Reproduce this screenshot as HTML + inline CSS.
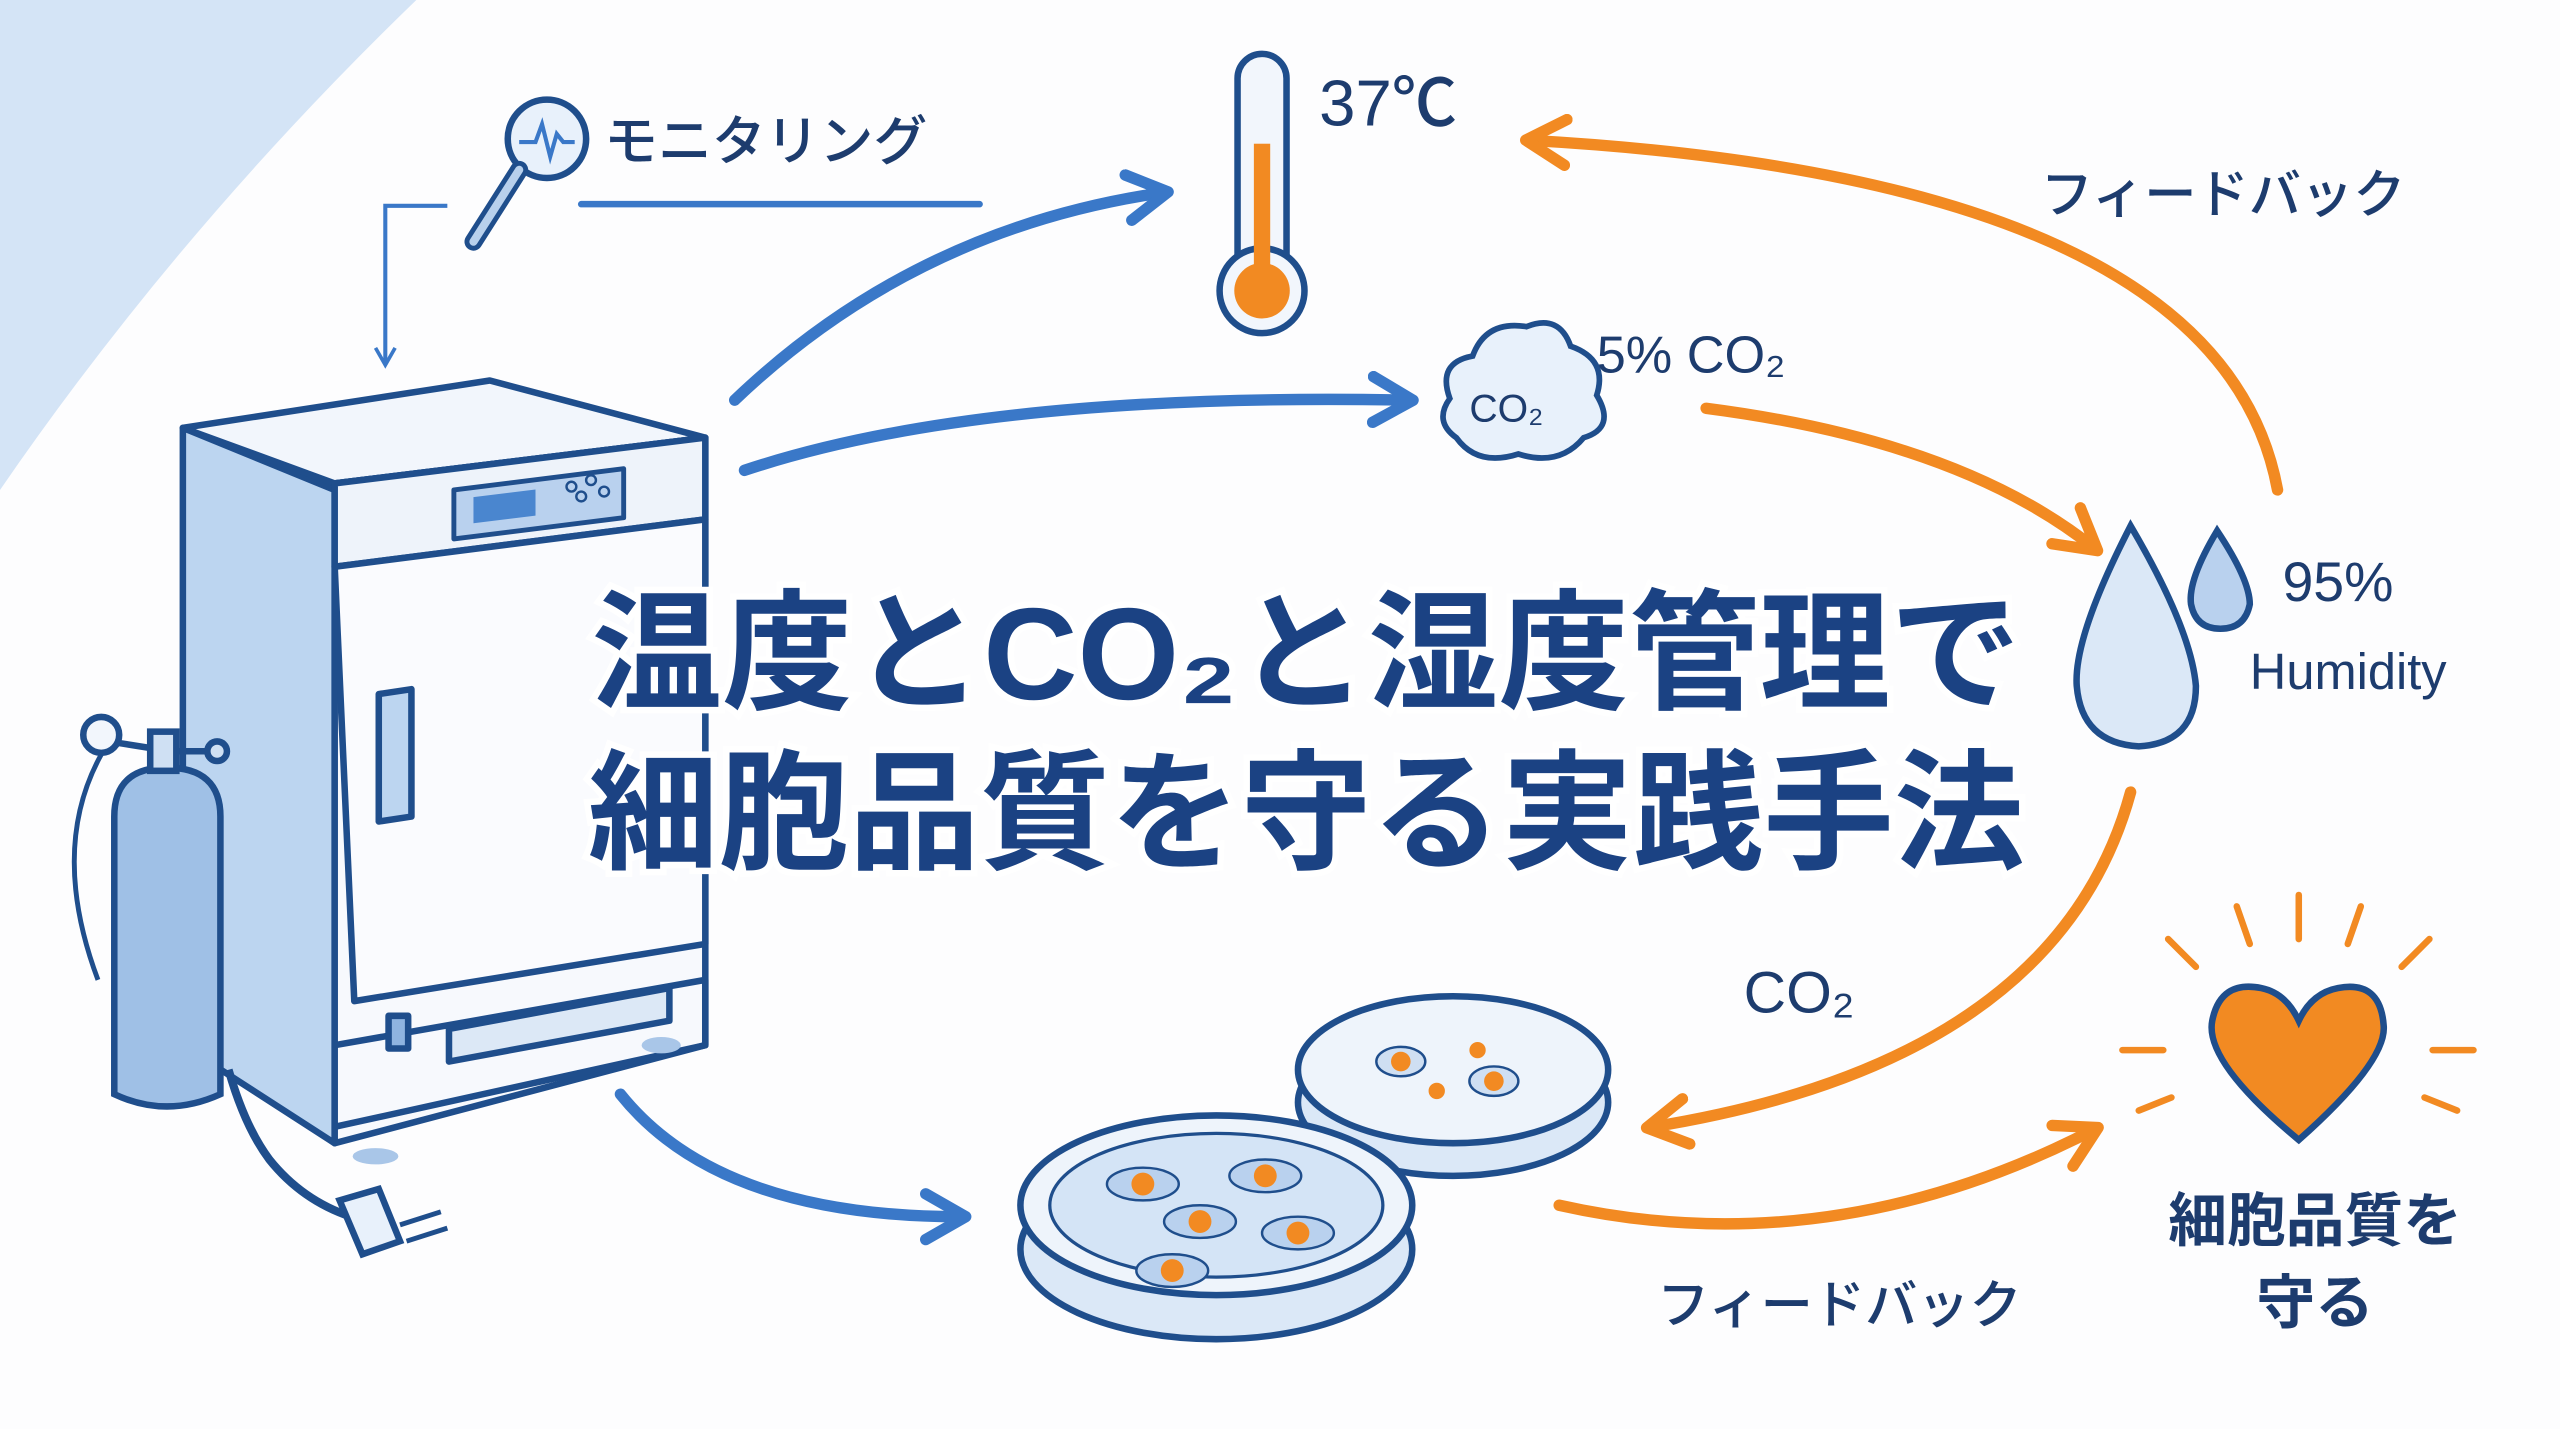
<!DOCTYPE html>
<html><head><meta charset="utf-8"><style>
html,body{margin:0;padding:0;background:#fdfdfe;}
svg{display:block}
text{font-family:"Liberation Sans","Noto Sans CJK JP",sans-serif;}
</style></head><body>
<svg width="2560" height="1429" viewBox="0 0 1568 875" preserveAspectRatio="none" xmlns="http://www.w3.org/2000/svg">
<defs>
<marker id="ab" viewBox="0 0 10 10" refX="7" refY="5" markerWidth="5" markerHeight="5" orient="auto"><path d="M1,1 L8,5 L1,9" fill="none" stroke="#3a78c8" stroke-width="2" stroke-linecap="round" stroke-linejoin="round"/></marker>
<marker id="ao" viewBox="0 0 10 10" refX="7" refY="5" markerWidth="5" markerHeight="5" orient="auto"><path d="M1,1 L8,5 L1,9" fill="none" stroke="#f28a22" stroke-width="2" stroke-linecap="round" stroke-linejoin="round"/></marker>
<marker id="as" viewBox="0 0 10 10" refX="7" refY="5" markerWidth="6" markerHeight="6" orient="auto"><path d="M1,1 L8,5 L1,9" fill="none" stroke="#3a78c8" stroke-width="1.5"/></marker>
</defs>
<rect width="1568" height="875" fill="#fdfdfe"/>
<path d="M0,0 L255,0 Q110,140 0,300 Z" fill="#d4e4f6"/>

<!-- monitoring -->
<circle cx="335" cy="85" r="24" fill="#e8f1fb" stroke="#1f4e8c" stroke-width="4"/>
<path d="M318,87 L328,87 L332,76 L337,96 L341,82 L345,87 L352,87" fill="none" stroke="#3a78c8" stroke-width="2.5"/>
<line x1="318" y1="104" x2="290" y2="148" stroke="#1f4e8c" stroke-width="11" stroke-linecap="round"/>
<line x1="318" y1="104" x2="290" y2="148" stroke="#b8d0ec" stroke-width="5" stroke-linecap="round"/>
<text x="370" y="98" font-size="33" font-weight="500" fill="#1d3c6e">モニタリング</text>
<line x1="356" y1="125" x2="600" y2="125" stroke="#3a78c8" stroke-width="4" stroke-linecap="round"/>
<path d="M274,126 L236,126 L236,222" fill="none" stroke="#3a78c8" stroke-width="2.5" marker-end="url(#as)"/>

<!-- incubator -->
<g stroke="#1f4e8c" stroke-width="4" stroke-linejoin="round">
<path d="M112,262 L112,640 L205,700 L205,300 Z" fill="#bcd5f0"/>
<path d="M112,262 L300,233 L432,268 L205,296 Z" fill="#f2f6fc"/>
<path d="M205,296 L432,268 L432,640 L205,700 Z" fill="#f7f9fd"/>
<path d="M205,296 L432,268 L432,318 L205,347 Z" fill="#eef3fa"/>
<path d="M278,300 L382,287 L382,317 L278,330 Z" fill="#b9d1ee" stroke-width="3"/>
<path d="M205,347 L432,318 L432,578 L217,613 Z" fill="#fafbfe"/>
<path d="M232,425 L252,422 L252,500 L232,503 Z" fill="#bcd5f0"/>
<path d="M205,640 L432,600 L432,640 L205,690" fill="none"/>
<path d="M275,630 L410,605 L410,625 L275,650 Z" fill="#dce8f6"/>
<rect x="238" y="622" width="12" height="20" fill="#8fb4e0"/>
</g>
<rect x="290" y="302" width="38" height="16" fill="#4a86cf" transform="skewY(-7) translate(0,38)"/>
<circle cx="350" cy="298" r="3" fill="none" stroke="#1f4e8c" stroke-width="1.5"/><circle cx="362" cy="294" r="3" fill="none" stroke="#1f4e8c" stroke-width="1.5"/><circle cx="356" cy="304" r="3" fill="none" stroke="#1f4e8c" stroke-width="1.5"/><circle cx="370" cy="301" r="3" fill="none" stroke="#1f4e8c" stroke-width="1.5"/>
<ellipse cx="230" cy="708" rx="14" ry="5" fill="#a9c6e8"/>
<ellipse cx="405" cy="640" rx="12" ry="5" fill="#a9c6e8"/>

<!-- gas cylinder -->
<g stroke="#1f4e8c" stroke-width="4">
<path d="M70,500 Q70,470 102,470 Q135,470 135,500 L135,670 Q102,685 70,670 Z" fill="#9fc0e6"/>
<rect x="92" y="448" width="16" height="24" fill="#cfe0f3"/>
<line x1="108" y1="460" x2="130" y2="460"/>
<circle cx="133" cy="460" r="6" fill="#cfe0f3"/>
<circle cx="62" cy="450" r="11" fill="#f2f6fc"/>
<line x1="73" y1="455" x2="92" y2="458"/>
<path d="M62,462 Q30,520 60,600" fill="none" stroke-width="3"/>
<path d="M140,655 Q150,690 165,710 Q185,735 215,745" fill="none" stroke-width="5"/>
<path d="M208,735 L232,728 L245,760 L222,768 Z" fill="#e8f1fb"/>
</g>
<line x1="245" y1="750" x2="270" y2="742" stroke="#1f4e8c" stroke-width="3"/>
<line x1="249" y1="760" x2="274" y2="752" stroke="#1f4e8c" stroke-width="3"/>

<!-- blue arrows -->
<path d="M450,245 Q560,140 712,118" fill="none" stroke="#3a78c8" stroke-width="7" stroke-linecap="round" marker-end="url(#ab)"/>
<path d="M456,288 Q600,240 862,245" fill="none" stroke="#3a78c8" stroke-width="7" stroke-linecap="round" marker-end="url(#ab)"/>
<path d="M380,670 Q440,745 588,745" fill="none" stroke="#3a78c8" stroke-width="7" stroke-linecap="round" marker-end="url(#ab)"/>

<!-- thermometer -->
<rect x="758" y="33" width="30" height="140" rx="15" fill="#f2f6fc" stroke="#1f4e8c" stroke-width="4"/>
<circle cx="773" cy="178" r="26" fill="#f2f6fc" stroke="#1f4e8c" stroke-width="4"/>
<rect x="768" y="88" width="10" height="90" fill="#f28a22"/>
<circle cx="773" cy="178" r="17" fill="#f28a22"/>
<text x="808" y="77" font-size="40" font-weight="500" fill="#1d3c6e">37℃</text>

<!-- cloud -->
<path d="M892,268 Q878,258 888,244 Q880,222 902,218 Q910,196 935,200 Q955,192 962,212 Q985,220 978,242 Q990,262 970,268 Q955,286 930,278 Q905,286 892,268 Z" fill="#e8f1fb" stroke="#1f4e8c" stroke-width="3.5"/>
<text x="900" y="258" font-size="24" font-weight="500" fill="#1d3c6e">CO₂</text>
<text x="978" y="228" font-size="32" font-weight="500" fill="#1d3c6e">5% CO₂</text>

<!-- orange arrows -->
<path d="M1395,300 Q1360,110 938,86" fill="none" stroke="#f28a22" stroke-width="7" stroke-linecap="round" marker-end="url(#ao)"/>
<path d="M1045,250 Q1200,270 1282,335" fill="none" stroke="#f28a22" stroke-width="7" stroke-linecap="round" marker-end="url(#ao)"/>
<path d="M1305,485 Q1260,650 1012,690" fill="none" stroke="#f28a22" stroke-width="7" stroke-linecap="round" marker-end="url(#ao)"/>
<path d="M955,738 Q1120,775 1282,692" fill="none" stroke="#f28a22" stroke-width="7" stroke-linecap="round" marker-end="url(#ao)"/>
<text x="1250" y="130" font-size="32" font-weight="500" fill="#1d3c6e">フィードバック</text>
<text x="1068" y="620" font-size="36" font-weight="500" fill="#1d3c6e">CO₂</text>
<text x="1015" y="810" font-size="32" font-weight="500" fill="#1d3c6e">フィードバック</text>

<!-- drops -->
<path d="M1305,322 Q1270,390 1272,420 Q1275,455 1310,457 Q1345,455 1345,420 Q1342,385 1305,322 Z" fill="#dbe8f7" stroke="#1f4e8c" stroke-width="4"/>
<path d="M1358,325 Q1340,355 1342,370 Q1345,385 1360,385 Q1375,385 1378,370 Q1378,355 1358,325 Z" fill="#b9d1ee" stroke="#1f4e8c" stroke-width="4"/>
<text x="1398" y="368" font-size="34" font-weight="500" fill="#1d3c6e">95%</text>
<text x="1378" y="422" font-size="31" font-weight="500" fill="#1d3c6e">Humidity</text>

<!-- heart -->
<path d="M1408,698 Q1350,650 1355,625 Q1360,600 1385,605 Q1400,608 1408,625 Q1416,608 1432,605 Q1458,600 1460,628 Q1462,650 1408,698 Z" fill="#f28a22" stroke="#1f4e8c" stroke-width="4"/>
<g stroke="#f28a22" stroke-width="4" stroke-linecap="round">
<line x1="1408" y1="548" x2="1408" y2="575"/><line x1="1370" y1="555" x2="1378" y2="578"/><line x1="1446" y1="555" x2="1438" y2="578"/>
<line x1="1328" y1="575" x2="1345" y2="592"/><line x1="1488" y1="575" x2="1471" y2="592"/>
<line x1="1300" y1="643" x2="1325" y2="643"/><line x1="1490" y1="643" x2="1515" y2="643"/>
<line x1="1310" y1="680" x2="1330" y2="672"/><line x1="1505" y1="680" x2="1485" y2="672"/>
</g>
<text x="1418" y="760" font-size="36" font-weight="bold" fill="#1d3c6e" text-anchor="middle">細胞品質を</text>
<text x="1418" y="810" font-size="36" font-weight="bold" fill="#1d3c6e" text-anchor="middle">守る</text>

<!-- petri dishes -->
<ellipse cx="890" cy="675" rx="95" ry="45" fill="#dbe8f7" stroke="#1f4e8c" stroke-width="4"/>
<ellipse cx="890" cy="655" rx="95" ry="45" fill="#eef4fb" stroke="#1f4e8c" stroke-width="4"/>
<g fill="#cfdff2" stroke="#1f4e8c" stroke-width="1.5"><ellipse cx="858" cy="650" rx="15" ry="9"/><ellipse cx="915" cy="662" rx="15" ry="9"/></g>
<circle cx="858" cy="650" r="6" fill="#f28a22"/><circle cx="915" cy="662" r="6" fill="#f28a22"/><circle cx="905" cy="643" r="5" fill="#f28a22"/><circle cx="880" cy="668" r="5" fill="#f28a22"/>
<ellipse cx="745" cy="765" rx="120" ry="55" fill="#dbe8f7" stroke="#1f4e8c" stroke-width="4"/>
<ellipse cx="745" cy="738" rx="120" ry="55" fill="#eef4fb" stroke="#1f4e8c" stroke-width="4"/>
<ellipse cx="745" cy="738" rx="102" ry="44" fill="#d4e4f6" stroke="#1f4e8c" stroke-width="2"/>
<g fill="#b9d1ee" stroke="#1f4e8c" stroke-width="1.5"><ellipse cx="700" cy="725" rx="22" ry="10"/><ellipse cx="775" cy="720" rx="22" ry="10"/><ellipse cx="735" cy="748" rx="22" ry="10"/><ellipse cx="795" cy="755" rx="22" ry="10"/><ellipse cx="718" cy="778" rx="22" ry="10"/></g>
<circle cx="700" cy="725" r="7" fill="#f28a22"/><circle cx="775" cy="720" r="7" fill="#f28a22"/><circle cx="735" cy="748" r="7" fill="#f28a22"/><circle cx="795" cy="755" r="7" fill="#f28a22"/><circle cx="718" cy="778" r="7" fill="#f28a22"/>

<!-- title -->
<g font-size="80" font-weight="bold" fill="#1b4283" stroke="#ffffff" stroke-width="8" paint-order="stroke" text-anchor="middle">
<text x="800" y="428">温度とCO₂と湿度管理で</text>
<text x="800" y="526">細胞品質を守る実践手法</text>
</g>
</svg>
</body></html>
